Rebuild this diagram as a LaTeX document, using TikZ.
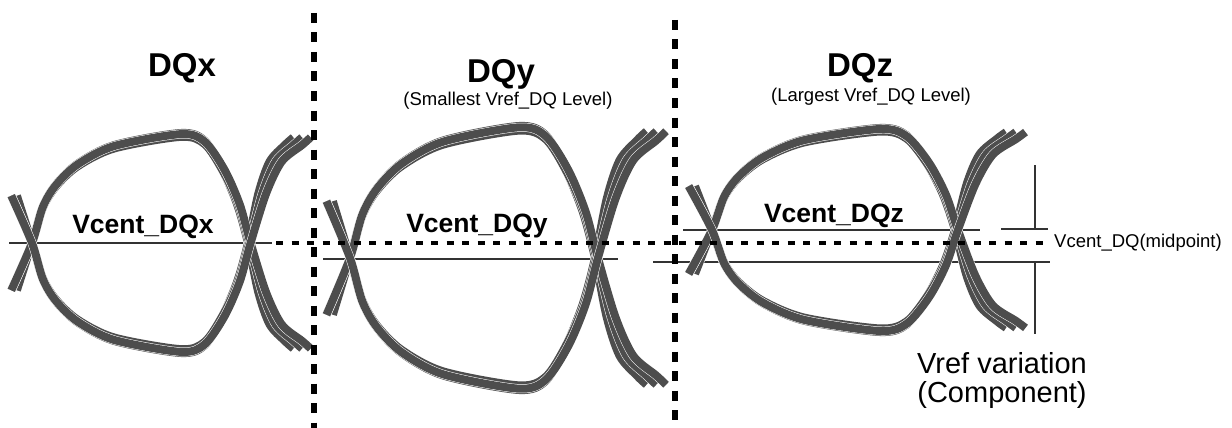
\documentclass[tikz,border=0pt]{standalone}
\usepackage{fontspec}
\setmainfont{Liberation Sans}
\definecolor{eyegray}{HTML}{4D4D4D}
\definecolor{linegray}{HTML}{333333}
\tikzset{
  strand/.style={draw=eyegray, line width=8pt, line join=round, preaction={draw=white, line width=9pt}},
  bigdash/.style={draw=black, line width=5.5pt, dash pattern=on 10pt off 9.5pt},
  middash/.style={draw=black, line width=3.5pt, dash pattern=on 7pt off 8.5pt},
  thinline/.style={draw=linegray, line width=1.6pt},
  titletext/.style={font=\bfseries\fontsize{33}{38}\selectfont, inner sep=0pt, anchor=base},
  subtext/.style={font=\fontsize{18.5}{22}\selectfont, inner sep=0pt, anchor=base},
  vlabel/.style={font=\bfseries\fontsize{26.5}{30}\selectfont, inner sep=0pt, anchor=base},
  notetext/.style={font=\fontsize{29}{30}\selectfont, inner sep=0pt, anchor=base},
}
\newcommand\drawEye[4]{%
  \foreach \sa/\pk/\cr/\tl in {0/1/0/0, 0.026/0.965/0.006/0.04, 0.026/0.99/0.012/0.08}{%
    \begin{scope}[shift={(#1,#2)}, xscale=#3, yscale=#4]
      \foreach \m in {1,-1}{%
        \draw[strand, yscale=\m] plot[smooth, tension=0.5] coordinates {({-0.07-\sa},0.43) (0,0) (0.05,{-0.33*\pk}) (0.11,{-0.53*\pk}) (0.21,{-0.72*\pk}) (0.38,{-0.89*\pk}) (0.69,{-1.0*\pk}) (0.80,{-0.93*\pk}) ({0.88+\cr},{-0.67*\pk}) ({0.95+\cr},-0.35) ({1+\cr},0) ({1.048+\cr+0.3*\tl},0.45) ({1.10+0.7*\tl},0.74) ({1.17+\tl},0.89) ({1.21+\tl},0.96)};
      }
    \end{scope}
  }}
\begin{document}
\begin{tikzpicture}[x=1pt,y=-1pt]
\useasboundingbox (0,0) rectangle (1232,428);
% reference lines
\coordinate (xa) at (9,243);   \coordinate (xb) at (272,243);
\coordinate (ya) at (323,259); \coordinate (yb) at (618,259);
\coordinate (za) at (683,230); \coordinate (zb) at (980,230);
\coordinate (zc) at (653,262); \coordinate (zd) at (1050,262);
\coordinate (ta) at (1001,229); \coordinate (tb) at (1048,229);
\coordinate (va) at (1035,165); \coordinate (vb) at (1035,229);
\coordinate (vc) at (1035,262); \coordinate (vd) at (1035,334);
\draw[thinline] (xa) -- (xb);
\draw[thinline] (ya) -- (yb);
\draw[thinline] (za) -- (zb);
\draw[thinline] (zc) -- (zd);
\draw[thinline] (ta) -- (tb);
\draw[thinline] (va) -- (vb);
\draw[thinline] (vc) -- (vd);
% eyes
\drawEye{32}{243}{216}{110}
\drawEye{350}{258}{245}{132}
\drawEye{712}{230}{243}{102}
% dotted lines
\coordinate (d1a) at (314,13); \coordinate (d1b) at (314,428);
\coordinate (d2a) at (675,20); \coordinate (d2b) at (675,428);
\coordinate (ma) at (276,243); \coordinate (mb) at (1046,243);
\draw[bigdash] (d1a) -- (d1b);
\draw[bigdash] (d2a) -- (d2b);
\draw[middash] (ma) -- (mb);
% texts
\node[titletext] (tx) at (182,77) {DQx};
\node[titletext] (ty) at (501,82) {DQy};
\node[subtext] (sy) at (508,106) {(Smallest Vref\_DQ Level)};
\node[titletext] (tz) at (860,77) {DQz};
\node[subtext] (sz) at (871,102) {(Largest Vref\_DQ Level)};
\node[vlabel] (lx) at (143,233) {Vcent\_DQx};
\node[vlabel] (ly) at (477,232) {Vcent\_DQy};
\node[vlabel] (lz) at (834,222) {Vcent\_DQz};
\node[subtext, anchor=base west] (mid) at (1054,247) {Vcent\_DQ(midpoint)};
\node[notetext] (n1) at (1002,373) {Vref variation};
\node[notetext] (n2) at (1002,402) {(Component)};
\end{tikzpicture}
\end{document}
